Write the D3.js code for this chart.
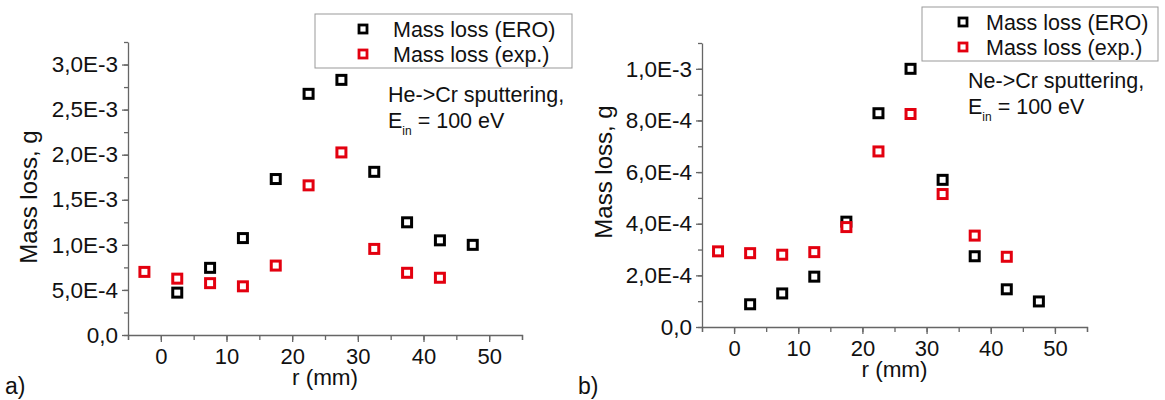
<!DOCTYPE html>
<html>
<head>
<meta charset="utf-8">
<script src="https://cdn.jsdelivr.net/npm/d3@7"></script>
<style>
  body { margin: 0; background: #fff; }
  text { font-family: "Liberation Sans", Arial, sans-serif; fill: #111; }
</style>
</head>
<body>
<div id="chart"></div>
<script>
// radial positions (mm)
var rEro = [2.5, 7.5, 12.5, 17.5, 22.5, 27.5, 32.5, 37.5, 42.5, 47.5];
var rExp = [-2.5, 2.5, 7.5, 12.5, 17.5, 22.5, 27.5, 32.5, 37.5, 42.5];

// He -> Cr, mass loss in g
var heEro = [4.7e-4, 7.45e-4, 1.075e-3, 1.73e-3, 2.675e-3, 2.83e-3, 1.81e-3, 1.25e-3, 1.05e-3, 1.0e-3];
var heExp = [7.0e-4, 6.25e-4, 5.75e-4, 5.4e-4, 7.7e-4, 1.66e-3, 2.025e-3, 9.55e-4, 6.9e-4, 6.35e-4];

// Ne -> Cr, mass loss in g
var neEro = [8.8e-5, 1.3e-4, 1.95e-4, 4.08e-4, 8.28e-4, 1.0e-3, 5.7e-4, 2.74e-4, 1.46e-4, 9.9e-5];
var neExp = [2.93e-4, 2.86e-4, 2.8e-4, 2.9e-4, 3.87e-4, 6.8e-4, 8.25e-4, 5.15e-4, 3.54e-4, 2.72e-4];

var xTicks = [0, 10, 20, 30, 40, 50];
var yTicksA = [0, 5e-4, 1e-3, 1.5e-3, 2e-3, 2.5e-3, 3e-3];
var yTicksB = [0, 2e-4, 4e-4, 6e-4, 8e-4, 1e-3];

var seriesNames = ["Mass loss (ERO)", "Mass loss (exp.)"];
var seriesColors = ["#000000", "#e3000f"];

var width = 1165;
var height = 400;

var svg = d3.select("#chart")
    .append("svg")
    .attr("width", width)
    .attr("height", height);

function fmt(d) {
    if (d === 0) return "0,0";
    return d.toExponential(1).replace(".", ",").replace("e", "E").replace("+", "");
}

function drawPanel(p) {
    var g = svg.append("g");

    var x = d3.scaleLinear().domain([-5, 55]).range([p.left, p.right]);
    var y = d3.scaleLinear().domain([0, p.yMax]).range([p.bottom, p.top]);

    // minor ticks
    var xMinor = d3.range(-5, 55.1, 5);
    var yMinor = d3.range(0, p.yMax + 1e-12, p.yMinorStep);

    g.append("g")
        .attr("transform", "translate(0," + p.bottom + ")")
        .call(d3.axisBottom(x).tickValues(xMinor).tickSize(5).tickFormat(""));
    g.append("g")
        .attr("transform", "translate(0," + p.bottom + ")")
        .call(d3.axisBottom(x).tickValues(xTicks).tickSize(7).tickPadding(6)
            .tickSizeOuter(0))
        .call(function (a) { a.select(".domain").remove(); })
        .selectAll("text")
        .attr("font-size", "22px")
        .attr("font-family", "Liberation Sans, Arial, sans-serif")
        .attr("fill", "#111");

    g.append("g")
        .attr("transform", "translate(" + p.left + ",0)")
        .call(d3.axisLeft(y).tickValues(yMinor).tickSize(4).tickFormat("").tickSizeOuter(0));
    g.append("g")
        .attr("transform", "translate(" + p.left + ",0)")
        .call(d3.axisLeft(y).tickValues(p.yTicks).tickSize(6).tickPadding(4)
            .tickFormat(fmt))
        .call(function (a) { a.select(".domain").remove(); })
        .selectAll("text")
        .attr("font-size", "22.5px")
        .attr("font-family", "Liberation Sans, Arial, sans-serif")
        .attr("fill", "#111");

    g.selectAll(".domain").attr("stroke", "#666").attr("stroke-width", 1.3);
    g.selectAll(".tick line").attr("stroke", "#666").attr("stroke-width", 1.3);

    // axis titles
    g.append("text")
        .attr("x", x(25))
        .attr("y", p.bottom + 50)
        .attr("text-anchor", "middle")
        .attr("font-size", "22.5px")
        .text("r (mm)");

    g.append("text")
        .attr("transform", "translate(" + p.yTitleX + "," + p.yTitleY + ") rotate(-90)")
        .attr("text-anchor", "middle")
        .attr("font-size", "24px")
        .text("Mass loss, g");

    // markers
    var sets = [[rEro, p.ero], [rExp, p.exp]];
    sets.forEach(function (s, i) {
        g.append("g")
            .selectAll("rect")
            .data(s[0].map(function (r, k) { return [r, s[1][k]]; }))
            .enter()
            .append("rect")
            .attr("x", function (d) { return x(d[0]) - 4.5; })
            .attr("y", function (d) { return y(d[1]) - 4.5; })
            .attr("width", 9)
            .attr("height", 9)
            .attr("fill", "#fff")
            .attr("stroke", seriesColors[i])
            .attr("stroke-width", 3);
    });

    // legend
    var lg = g.append("g");
    lg.append("rect")
        .attr("x", p.legX)
        .attr("y", p.legY)
        .attr("width", p.legW)
        .attr("height", 54)
        .attr("fill", "#fff")
        .attr("stroke", "#999")
        .attr("stroke-width", 1);
    seriesNames.forEach(function (name, i) {
        var cy = p.legY + 15 + i * 25;
        lg.append("rect")
            .attr("x", p.legX + p.legMark - 4)
            .attr("y", cy - 4)
            .attr("width", 8)
            .attr("height", 8)
            .attr("fill", "#fff")
            .attr("stroke", seriesColors[i])
            .attr("stroke-width", 2.8);
        lg.append("text")
            .attr("x", p.legX + p.legText)
            .attr("y", cy + 8)
            .attr("font-size", "21.5px")
            .text(name);
    });

    // annotation
    g.append("text")
        .attr("x", p.noteX)
        .attr("y", p.noteY)
        .attr("font-size", "21.5px")
        .text(p.note);
    var t = g.append("text")
        .attr("x", p.noteX)
        .attr("y", p.noteY + 26)
        .attr("font-size", "21.5px");
    t.append("tspan").text("E");
    t.append("tspan").attr("font-size", "12px").attr("dy", 7).text("in");
    t.append("tspan").attr("dy", -7).text(" = 100 eV");

    // panel letter
    g.append("text")
        .attr("x", p.letterX)
        .attr("y", 394)
        .attr("font-family", "Open Sans, sans-serif")
        .attr("font-size", "23px")
        .text(p.letter);
}

drawPanel({
    left: 128, right: 522, top: 42, bottom: 335,
    yMax: 3.25e-3, yMinorStep: 2.5e-4, yTicks: yTicksA,
    ero: heEro, exp: heExp,
    yTitleX: 37, yTitleY: 197,
    legX: 315, legY: 14, legW: 257, legMark: 48, legText: 78,
    note: "He->Cr sputtering,", noteX: 388, noteY: 102,
    letter: "a)", letterX: 5
});

drawPanel({
    left: 702, right: 1087, top: 43, bottom: 327,
    yMax: 1.1e-3, yMinorStep: 1e-4, yTicks: yTicksB,
    ero: neEro, exp: neExp,
    yTitleX: 612, yTitleY: 172,
    legX: 922, legY: 7, legW: 236, legMark: 41, legText: 64,
    note: "Ne->Cr sputtering,", noteX: 968, noteY: 88,
    letter: "b)", letterX: 578
});
</script>
</body>
</html>
